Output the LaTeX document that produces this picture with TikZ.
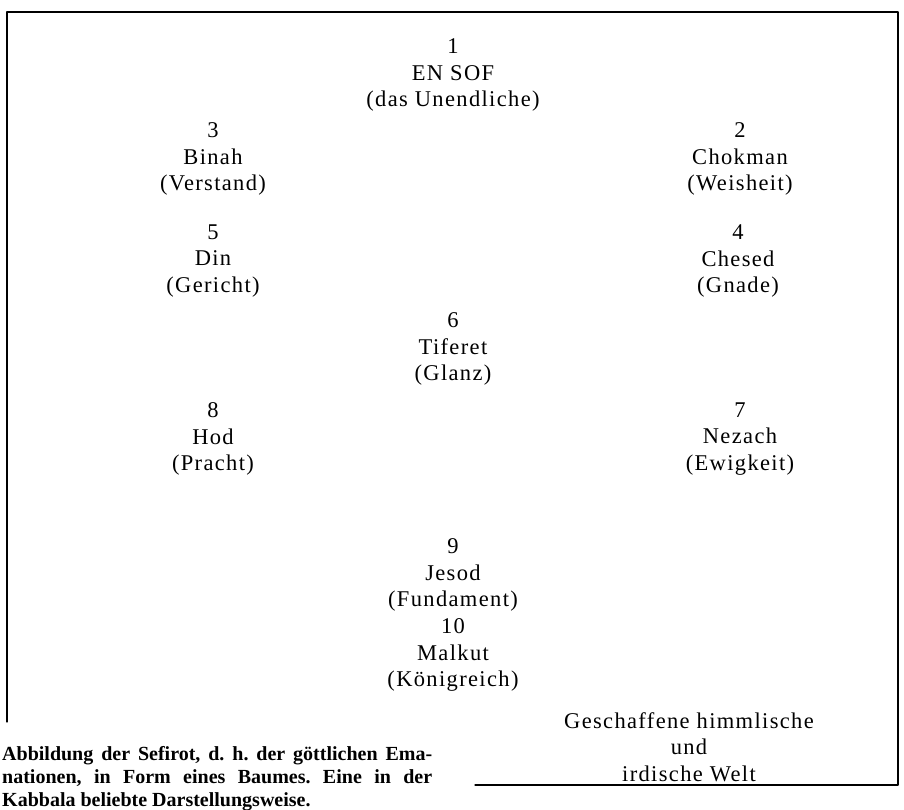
\documentclass[tikz,border=0pt]{standalone}
\usepackage{fontspec}
\setmainfont{Liberation Serif}
\frenchspacing

\begin{document}
\begin{tikzpicture}[x=1pt,y=-1pt,line cap=round,line join=round,
    sefira/.style={align=center,inner sep=0pt,
      font=\addfontfeatures{LetterSpace=6}\fontsize{22.5}{26.5}\selectfont}]
  \useasboundingbox (0,0) rectangle (904,810);
  % frame
  \draw[line width=1.1pt] (7,722) -- (7,12) -- (898,12) -- (898,785) -- (475,785);
  % the ten sefirot
  \node[sefira] (ensof) at (453,75) {1\\EN SOF\\(das Unendliche)};
  \node[sefira] (chokman) at (740,159) {2\\Chokman\\(Weisheit)};
  \node[sefira] (binah) at (213,159) {3\\Binah\\(Verstand)};
  \node[sefira] (chesed) at (738,261) {4\\Chesed\\(Gnade)};
  \node[sefira] (din) at (213,261) {5\\Din\\(Gericht)};
  \node[sefira] (tiferet) at (453,349) {6\\Tiferet\\(Glanz)};
  \node[sefira] (nezach) at (740,439) {7\\Nezach\\(Ewigkeit)};
  \node[sefira] (hod) at (213,439) {8\\Hod\\(Pracht)};
  \node[sefira] (jesod) at (453,575) {9\\Jesod\\(Fundament)};
  \node[sefira] (malkut) at (453,655) {10\\Malkut\\(Königreich)};
  \node[sefira] (welt) at (689,747) {Geschaffene himmlische\\und\\irdische Welt};
  % caption
  \node[anchor=north west,inner sep=0pt,text width=430pt,align=justify,
    font=\bfseries\fontsize{20}{23}\selectfont] (caption) at (2,746)
    {Abbildung der Sefirot, d. h. der göttlichen Ema-\linebreak
     nationen, in Form eines Baumes. Eine in der\linebreak
     Kabbala beliebte Darstellungsweise.};
\end{tikzpicture}
\end{document}
